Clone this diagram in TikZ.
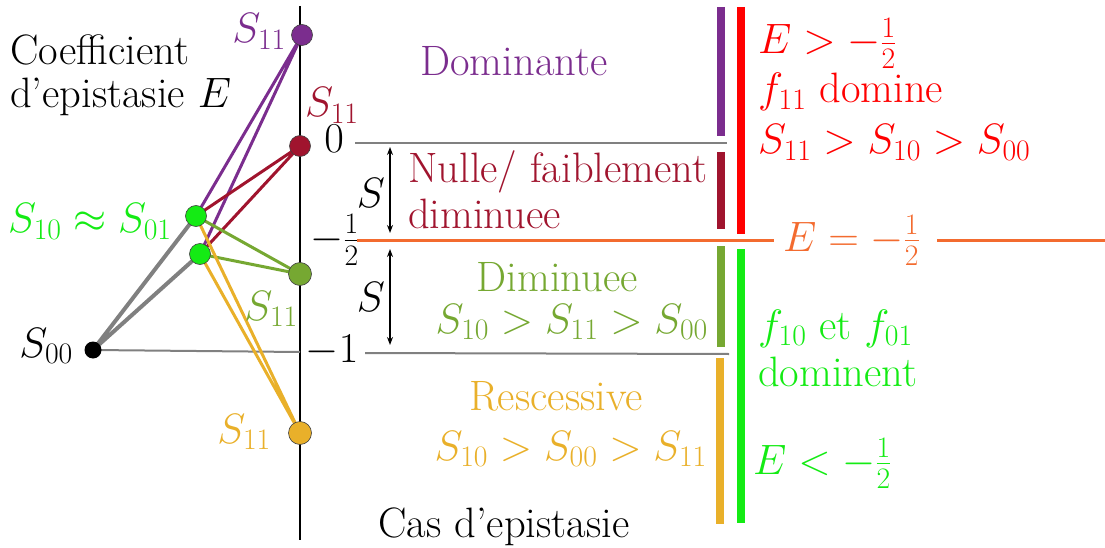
\RequirePackage{fix-cm}
\documentclass[tikz,border=0pt]{standalone}
\usetikzlibrary{arrows.meta}
\definecolor{cpurple}{RGB}{123,45,142}
\definecolor{cdred}{RGB}{160,20,46}
\definecolor{cgreen}{RGB}{20,235,20}
\definecolor{colive}{RGB}{118,168,50}
\definecolor{cyel}{RGB}{233,176,42}
\definecolor{cred}{RGB}{255,0,0}
\definecolor{corange}{RGB}{243,107,47}
\definecolor{cgray}{RGB}{128,128,128}
\begin{document}
\begin{tikzpicture}[x=1pt,y=-1pt,
  every node/.style={font=\fontsize{42.5}{50}\selectfont, inner sep=0pt},
  dot/.style={circle, draw=black!75, line width=0.6pt, minimum size=21pt},
  link/.style={line width=3pt},
  bar/.style={line width=8pt},
  sep/.style={cgray, line width=2pt},
  dbl/.style={{Stealth[length=8pt,width=6pt]}-{Stealth[length=8pt,width=6pt]}, line width=1.3pt}]
\useasboundingbox (0,0) rectangle (1105,548);

% coordinates of points
\coordinate (P) at (302,35);
\coordinate (R) at (300,146);
\coordinate (O) at (300,274);
\coordinate (Y) at (300,433);
\coordinate (G1) at (196,216);
\coordinate (G2) at (200,254);
\coordinate (Z) at (93,350);
\coordinate (axT) at (300,6);
\coordinate (axB) at (300,540);
\coordinate (axM) at (300,352);

% axis
\draw[line width=1.3pt] (axT) -- (axB);

% links
\draw[cgray, line width=4pt] (Z) -- (G1) (Z) -- (G2);
\draw[cgray, line width=2pt] (Z) -- (axM);
\draw[link, cpurple] (G1) -- (P) (G2) -- (P);
\draw[link, cdred] (G1) -- (R) (G2) -- (R);
\draw[link, colive] (G1) -- (O) (G2) -- (O);
\draw[link, cyel] (G1) -- (Y) (G2) -- (Y);

% dots
\node[dot, fill=cpurple] (p) at (P) {};
\node[dot, fill=cdred] (r) at (R) {};
\node[dot, fill=colive, minimum size=23pt] (o) at (O) {};
\node[dot, fill=cyel, minimum size=23pt] (y) at (Y) {};
\node[dot, fill=cgreen] (g1) at (G1) {};
\node[dot, fill=cgreen] (g2) at (G2) {};
\node[circle, fill=black, minimum size=17pt] (z) at (Z) {};

% left labels
\node[anchor=base west] (t1) at (10,65) {Coefficient};
\node[anchor=base west] (t2) at (10,108) {d'epistasie $E$};
\node[anchor=base east, text=cpurple] (lp) at (286,43) {$S_{11}$};
\node[anchor=base west, text=cdred] (lr) at (305,117) {$S_{11}$};
\node[anchor=base west, text=cgreen] (lg) at (8,233) {$S_{10}\approx S_{01}$};
\node[anchor=base east, text=colive] (lo) at (298,320) {$S_{11}$};
\node[anchor=base east, text=cyel] (ly) at (271,443) {$S_{11}$};
\node[anchor=base east] (lz) at (73,357) {$S_{00}$};

% axis tick labels
\node[anchor=base] (n0) at (334,153) {$0$};
\node (nh) at (335,240) {$-\frac{1}{2}$};
\node[anchor=base] (n1) at (332,362) {$-1$};

% separators
\coordinate (s0a) at (355,143);
\coordinate (s0b) at (727,143);
\coordinate (s1a) at (365,353);
\coordinate (s1b) at (729,354);
\draw[sep] (s0a) -- (s0b);
\draw[sep] (s1a) -- (s1b);

% E = -1/2 line
\coordinate (ha) at (357,240);
\coordinate (hb) at (774,240);
\coordinate (hc) at (937,240);
\coordinate (hd) at (1105,240);
\draw[corange, line width=3pt] (ha) -- (hb);
\draw[corange, line width=3pt] (hc) -- (hd);
\node[anchor=base west, text=corange] (he) at (783,251) {$E=-\frac{1}{2}$};

% S arrows
\coordinate (a1) at (390,147);
\coordinate (a2) at (390,233);
\coordinate (a3) at (390,249);
\coordinate (a4) at (390,345);
\draw[dbl] (a1) -- (a2);
\draw[dbl] (a3) -- (a4);
\node (sa) at (371,193) {$S$};
\node (sb) at (371,297) {$S$};

% middle texts
\node[anchor=base, text=cpurple] (dom) at (514,76) {Dominante};
\node[anchor=base west, text=cdred] (nul) at (408,183) {Nulle/ faiblement};
\node[anchor=base west, text=cdred] (dim) at (408,228) {diminuee};
\node[anchor=base, text=colive] (dim2) at (557,291) {Diminuee};
\node[anchor=base east, text=colive] (ord1) at (708,333) {$S_{10}>S_{11}>S_{00}$};
\node[anchor=base, text=cyel] (res) at (556,410) {Rescessive};
\node[anchor=base east, text=cyel] (ord2) at (707,460) {$S_{10}>S_{00}>S_{11}$};
\node[anchor=base] (cas) at (504,537) {Cas d'epistasie};

% bars
\coordinate (bp1) at (721,7);   \coordinate (bp2) at (721,136);
\coordinate (br1) at (721,152); \coordinate (br2) at (721,229);
\coordinate (bo1) at (721,246); \coordinate (bo2) at (721,347);
\coordinate (by1) at (720,358); \coordinate (by2) at (720,524);
\coordinate (bR1) at (741,7);   \coordinate (bR2) at (741,234);
\coordinate (bG1) at (741,249); \coordinate (bG2) at (741,523);
\draw[bar, cpurple] (bp1) -- (bp2);
\draw[bar, cdred] (br1) -- (br2);
\draw[bar, colive] (bo1) -- (bo2);
\draw[bar, cyel] (by1) -- (by2);
\draw[bar, cred] (bR1) -- (bR2);
\draw[bar, cgreen] (bG1) -- (bG2);

% right texts
\node[anchor=base west, text=cred] (r1) at (758,54) {$E>-\frac{1}{2}$};
\node[anchor=base west, text=cred] (r2) at (758,103) {$f_{11}$ domine};
\node[anchor=base west, text=cred] (r3) at (758,154) {$S_{11}>S_{10}>S_{00}$};
\node[anchor=base west, text=cgreen] (g3) at (758,339) {$f_{10}$ et $f_{01}$};
\node[anchor=base west, text=cgreen] (g4) at (758,386) {dominent};
\node[anchor=base west, text=cgreen] (g5) at (753,474) {$E<-\frac{1}{2}$};
\end{tikzpicture}
\end{document}
